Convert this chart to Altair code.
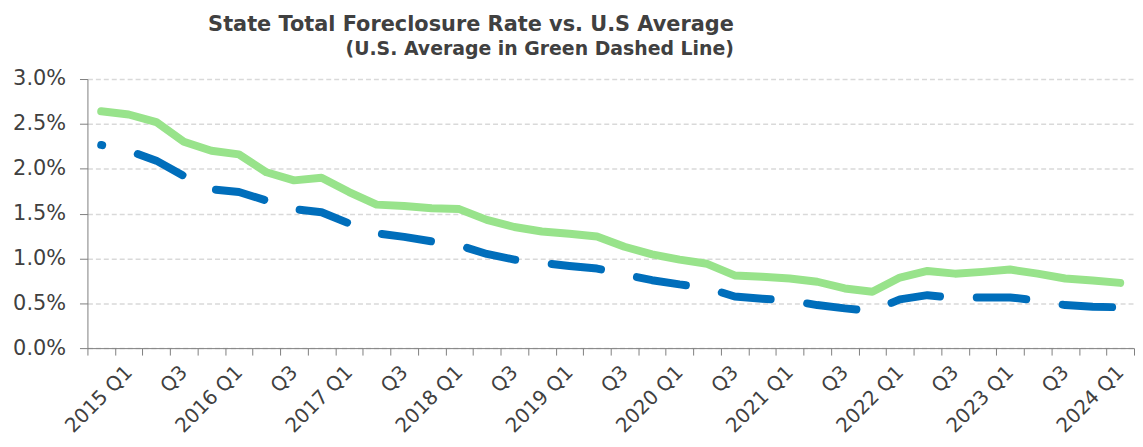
import altair as alt
import pandas as pd

quarters = [
    "2014 Q4",
    "2015 Q1", "2015 Q2", "2015 Q3", "2015 Q4",
    "2016 Q1", "2016 Q2", "2016 Q3", "2016 Q4",
    "2017 Q1", "2017 Q2", "2017 Q3", "2017 Q4",
    "2018 Q1", "2018 Q2", "2018 Q3", "2018 Q4",
    "2019 Q1", "2019 Q2", "2019 Q3", "2019 Q4",
    "2020 Q1", "2020 Q2", "2020 Q3", "2020 Q4",
    "2021 Q1", "2021 Q2", "2021 Q3", "2021 Q4",
    "2022 Q1", "2022 Q2", "2022 Q3", "2022 Q4",
    "2023 Q1", "2023 Q2", "2023 Q3", "2023 Q4",
    "2024 Q1",
]

# U.S. average (green line), percent
us_average = [
    2.64, 2.605, 2.52, 2.30, 2.20, 2.16, 1.96, 1.87, 1.90, 1.74,
    1.60, 1.585, 1.56, 1.55, 1.43, 1.35, 1.30, 1.275, 1.245, 1.13,
    1.045, 0.987, 0.94, 0.81, 0.795, 0.776, 0.74, 0.665, 0.628, 0.787,
    0.86, 0.83, 0.85, 0.876, 0.83, 0.776, 0.754, 0.727,
]

# State total (blue dashed line), percent
state_total = [
    2.265, 2.20, 2.09, 1.92, 1.77, 1.74, 1.645, 1.55, 1.515, 1.39,
    1.28, 1.24, 1.19, 1.145, 1.05, 0.987, 0.95, 0.916, 0.887, 0.82,
    0.757, 0.71, 0.672, 0.575, 0.55, 0.53, 0.48, 0.443, 0.415, 0.543,
    0.59, 0.56, 0.565, 0.565, 0.53, 0.48, 0.461, 0.455,
]

y_ticks = [0, 0.005, 0.01, 0.015, 0.02, 0.025, 0.03]

df_us = pd.DataFrame({"quarter": quarters, "value": [v / 100 for v in us_average]})
df_state = pd.DataFrame({"quarter": quarters, "value": [v / 100 for v in state_total]})

FONT = "DejaVu Sans"
TXT = "#404040"

label_expr = (
    "!isString(datum.value) ? '' : "
    "(slice(datum.value, 5) == 'Q1' ? datum.value : "
    "(slice(datum.value, 5) == 'Q3' ? 'Q3' : ''))"
)

x_enc = alt.X(
    "quarter:N",
    sort=quarters,
    scale=alt.Scale(type="band", paddingInner=0, paddingOuter=0),
    axis=alt.Axis(
        title=None,
        labelAngle=-45,
        labelAlign="right",
        labelBaseline="middle",
        labelExpr=label_expr,
        labelFontSize=20,
        labelFont=FONT,
        labelColor=TXT,
        labelPadding=14,
        labelOverlap=False,
        tickBand="extent",
        tickSize=7,
        tickColor="#7F7F7F",
        domainColor="#7F7F7F",
        grid=False,
    ),
)

y_enc = alt.Y(
    "value:Q",
    scale=alt.Scale(domain=[0, 0.03]),
    axis=alt.Axis(
        title=None,
        values=y_ticks,
        format=".1%",
        labelFontSize=21,
        labelFont=FONT,
        labelColor=TXT,
        labelPadding=14,
        tickSize=8,
        tickColor="#7F7F7F",
        domainColor="#7F7F7F",
        grid=True,
        gridColor="#D9D9D9",
        gridDash=[5, 3],
        gridWidth=1.5,
    ),
)

green = (
    alt.Chart(df_us)
    .mark_line(color="#98E38B", strokeWidth=8, strokeCap="round", strokeJoin="round")
    .encode(x=x_enc, y=y_enc)
)

blue = (
    alt.Chart(df_state)
    .mark_line(
        color="#006EBB",
        strokeWidth=8,
        strokeCap="round",
        strokeJoin="round",
        strokeDash=[50, 37],
        strokeDashOffset=49,
    )
    .encode(x=x_enc, y=y_enc)
)

chart = (
    alt.layer(green, blue)
    .properties(
        width=1054,
        height=271,
        padding={"left": 80, "top": 70, "right": 1, "bottom": 90},
        autosize=alt.AutoSizeParams(type="none"),
        title=alt.TitleParams(
            text="State Total Foreclosure Rate vs. U.S Average",
            subtitle="(U.S. Average in Green Dashed Line)",
            anchor="end",
            frame="group",
            dx=-403,
            font=FONT,
            fontSize=21,
            fontWeight="bold",
            color=TXT,
            subtitleFont=FONT,
            subtitleFontSize=19,
            subtitleFontWeight="bold",
            subtitleColor=TXT,
            subtitlePadding=5,
            offset=9,
        ),
    )
    .configure_view(stroke=None)
)

chart.save("out.html", embed_options={"renderer": "svg", "actions": False})
